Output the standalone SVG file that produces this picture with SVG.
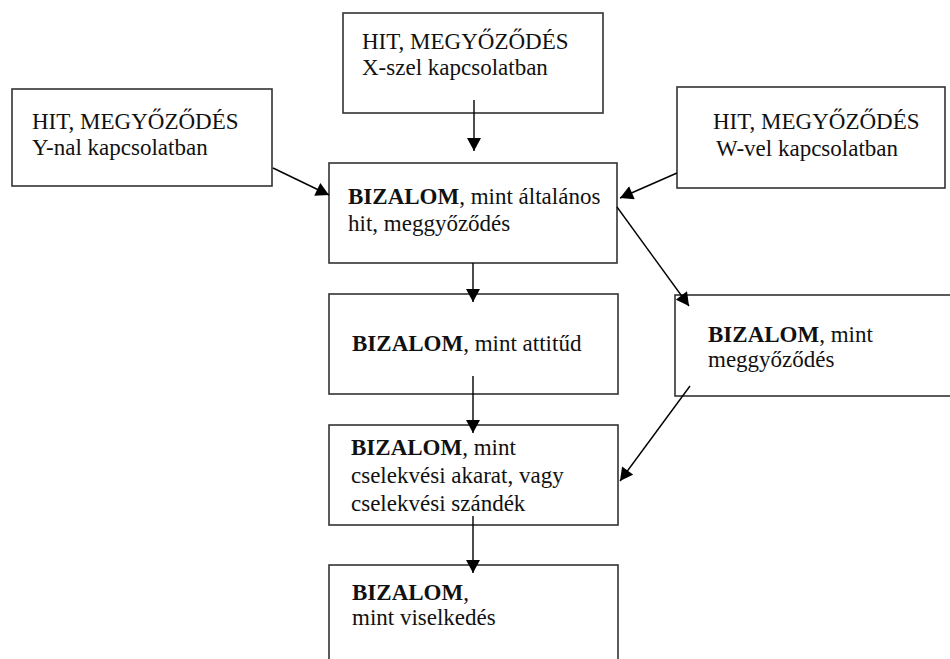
<svg xmlns="http://www.w3.org/2000/svg" width="950" height="659" viewBox="0 0 950 659">
<defs>
<style>
.box{fill:#fff;stroke:#333;stroke-width:1.6}
.t{font-family:"Liberation Serif","Times New Roman",serif;font-size:23px;fill:#111}
.b{font-weight:bold}
.c{stroke:#000;stroke-width:1.4;fill:none}
</style>
<marker id="ah" markerUnits="userSpaceOnUse" markerWidth="14" markerHeight="14" viewBox="0 0 13 14" refX="13" refY="7" orient="auto">
<path d="M0,0 L13,7 L0,14 z" fill="#000"/>
</marker>
</defs>
<rect width="950" height="659" fill="#fff"/>
<g id="node-x">
<rect class="box" x="343" y="13" width="260" height="100"/>
<text class="t" x="362" y="49">HIT, MEGYŐZŐDÉS</text>
<text class="t" x="362" y="75">X-szel kapcsolatban</text>
</g>
<g id="node-y">
<rect class="box" x="12" y="89" width="260" height="97"/>
<text class="t" x="32" y="129">HIT, MEGYŐZŐDÉS</text>
<text class="t" x="32" y="155">Y-nal kapcsolatban</text>
</g>
<g id="node-w">
<rect class="box" x="677" y="87" width="268" height="101"/>
<text class="t" x="713" y="129">HIT, MEGYŐZŐDÉS</text>
<text class="t" x="716" y="156">W-vel kapcsolatban</text>
</g>
<g id="node-altalanos">
<rect class="box" x="329" y="163" width="288" height="100"/>
<text class="t" x="348" y="204"><tspan class="b">BIZALOM</tspan>, mint általános</text>
<text class="t" x="348" y="231">hit, meggyőződés</text>
</g>
<g id="node-attitud">
<rect class="box" x="329" y="294" width="289" height="100"/>
<text class="t" x="352" y="351"><tspan class="b">BIZALOM</tspan>, mint attitűd</text>
</g>
<g id="node-meggyozodes">
<rect class="box" x="675" y="295" width="290" height="101"/>
<text class="t" x="708" y="342"><tspan class="b">BIZALOM</tspan>, mint</text>
<text class="t" x="708" y="367">meggyőződés</text>
</g>
<g id="node-akarat">
<rect class="box" x="329" y="425" width="289" height="100"/>
<text class="t" x="351" y="455"><tspan class="b">BIZALOM</tspan>, mint</text>
<text class="t" x="351" y="483">cselekvési akarat, vagy</text>
<text class="t" x="351" y="511">cselekvési szándék</text>
</g>
<g id="node-viselkedes">
<rect class="box" x="329" y="565" width="289" height="110"/>
<text class="t" x="352" y="600"><tspan class="b">BIZALOM</tspan>,</text>
<text class="t" x="352" y="625">mint viselkedés</text>
</g>
<g id="connectors">
<line class="c" x1="474" y1="100" x2="474" y2="151" marker-end="url(#ah)"/>
<line class="c" x1="273" y1="168" x2="329" y2="195" marker-end="url(#ah)"/>
<line class="c" x1="677" y1="173" x2="620" y2="198" marker-end="url(#ah)"/>
<line class="c" x1="473" y1="263" x2="473" y2="302" marker-end="url(#ah)"/>
<line class="c" x1="617" y1="207" x2="689" y2="306" marker-end="url(#ah)"/>
<line class="c" x1="473" y1="376" x2="473" y2="433" marker-end="url(#ah)"/>
<line class="c" x1="690" y1="386" x2="620" y2="481" marker-end="url(#ah)"/>
<line class="c" x1="473" y1="516" x2="473" y2="573" marker-end="url(#ah)"/>
</g>
</svg>
